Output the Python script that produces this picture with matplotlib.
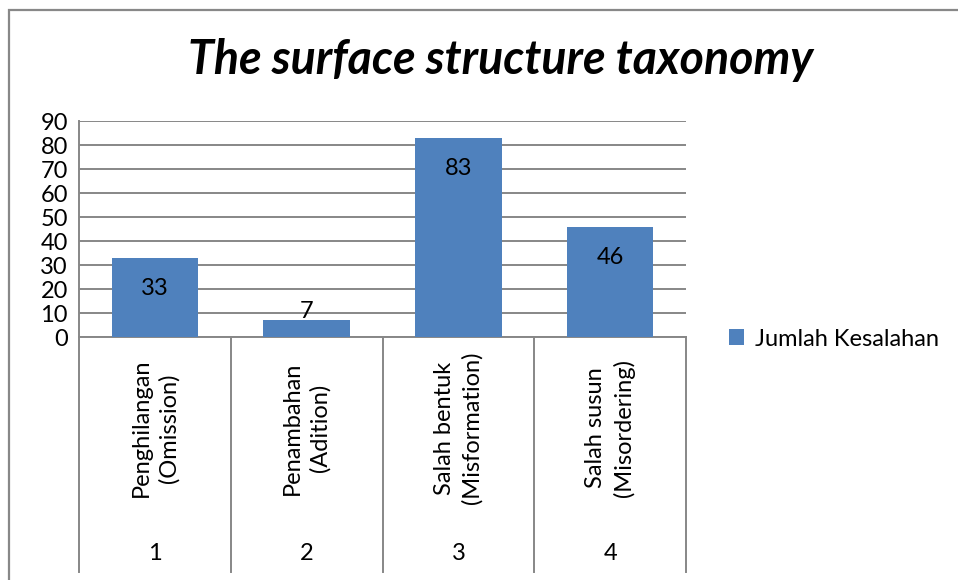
import matplotlib
matplotlib.use("Agg")
import matplotlib.pyplot as plt
from matplotlib.patches import Rectangle, Patch
from matplotlib.lines import Line2D

categories = ["Penghilangan\n(Omission)", "Penambahan\n(Adition)",
              "Salah bentuk\n(Misformation)", "Salah susun\n(Misordering)"]
group_labels = ["1", "2", "3", "4"]
values = [33, 7, 83, 46]
series_name = "Jumlah Kesalahan"
title = "The surface structure taxonomy"
yticks = list(range(0, 100, 10))

BAR = "#4F81BD"
GRID = "#878787"
FONT = "Lato"
FS = 17

plt.rcParams['font.family'] = [FONT, 'DejaVu Sans']

W, H = 958, 580
fig = plt.figure(figsize=(W / 100, H / 100), dpi=100)

def fx(px):
    return px / W

def fy(py):
    return 1 - py / H

# outer chart frame
fig.patches.append(Rectangle((fx(9), fy(700)), fx(2000), fy(10) - fy(700),
                             transform=fig.transFigure, fill=False,
                             edgecolor="#888888", linewidth=1.6))

left, right, top, bottom = 79, 686, 121, 337
ax = fig.add_axes([fx(left), fy(bottom), fx(right) - fx(left), fy(top) - fy(bottom)])

n = len(values)
x = list(range(n))
ax.bar(x, values, width=0.57, color=BAR, zorder=3)
ax.set_xlim(-0.5, n - 0.5)
ax.set_ylim(0, 90)
ax.set_yticks(yticks)
ax.set_yticklabels([str(t) for t in yticks], fontsize=FS)
ax.tick_params(axis='y', length=0, pad=8)
ax.set_xticks([])
ax.yaxis.grid(True, color=GRID, linewidth=1.4, zorder=0)
for s in ['top', 'right']:
    ax.spines[s].set_visible(False)
ax.spines['left'].set_color(GRID)
ax.spines['left'].set_linewidth(1.4)
ax.spines['bottom'].set_color(GRID)
ax.spines['bottom'].set_linewidth(1.4)

# data labels (inside end)
for xi, v in zip(x, values):
    if v >= 20:
        ax.annotate(str(v), (xi, v), xytext=(0, -22), textcoords='offset points',
                    ha='center', va='center', fontsize=FS, zorder=4)
    else:
        ax.annotate(str(v), (xi, v), xytext=(0, 6.5), textcoords='offset points',
                    ha='center', va='center', fontsize=FS, zorder=4)

# multi-level category axis
trans = ax.get_xaxis_transform()
ybot_axes = (bottom - 572) / (bottom - top)
for b in [i - 0.5 for i in range(n + 1)]:
    ax.add_line(Line2D([b, b], [0, ybot_axes], transform=trans, color=GRID,
                       linewidth=1.4, clip_on=False))
ylab = (bottom - 428) / (bottom - top)
ygrp = (bottom - 553) / (bottom - top)
for xi, c, g in zip(x, categories, group_labels):
    ax.text(xi, ylab, c, transform=trans, rotation=90, ha='center', va='center',
            multialignment='center', fontsize=FS, linespacing=1.35)
    ax.text(xi, ygrp, g, transform=trans, ha='center', va='center', fontsize=FS)

# title
fig.text(fx(501), fy(60), title, ha='center', va='center', fontsize=33.5,
         fontweight='bold', fontstyle='italic')

# legend
leg = fig.legend(handles=[Patch(facecolor=BAR, edgecolor='none', label=series_name)],
                 loc='center left', bbox_to_anchor=(fx(729), fy(339)), frameon=False,
                 fontsize=FS, handlelength=0.65, handleheight=0.65, handletextpad=0.45,
                 borderpad=0, borderaxespad=0)

fig.savefig("out.png", dpi=100)
